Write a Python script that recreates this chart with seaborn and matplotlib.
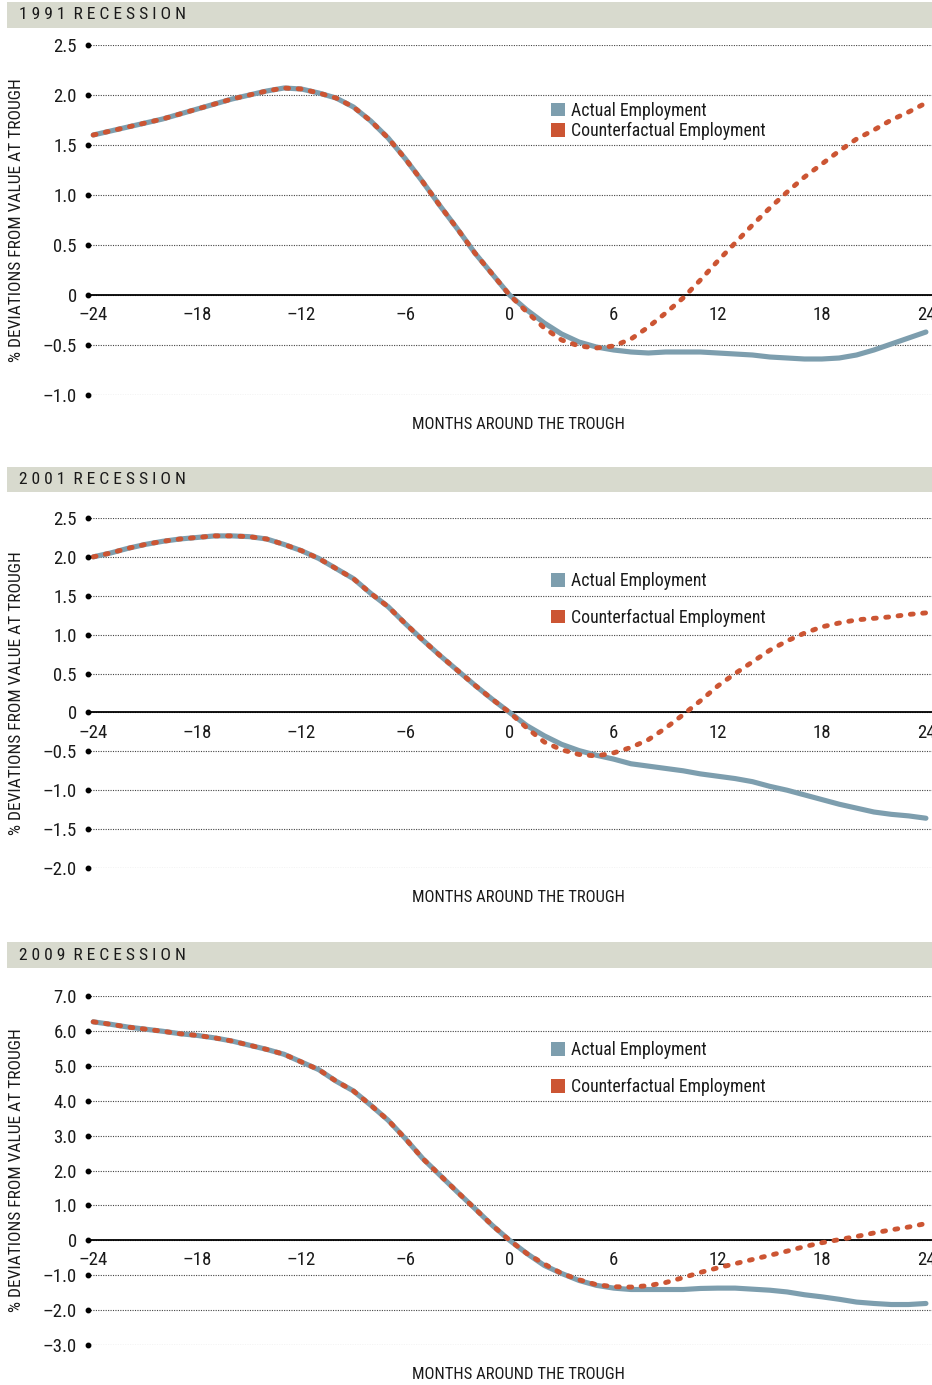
import matplotlib
matplotlib.use("Agg")
import matplotlib.pyplot as plt
from matplotlib import font_manager
from matplotlib.patches import Patch, Rectangle
import numpy as np
import pandas as pd
import seaborn as sns

# ---- data (monthly, -24 .. +24 months around the trough)
months = list(range(-24, 25))

actual_1991 = [1.60, 1.64, 1.68, 1.72, 1.76, 1.81, 1.86, 1.91, 1.96, 2.00, 2.04, 2.07,
               2.06, 2.02, 1.97, 1.88, 1.74, 1.57, 1.36, 1.13, 0.89, 0.66, 0.42, 0.21,
               0.00,
               -0.15, -0.28, -0.39, -0.47, -0.52, -0.55, -0.57, -0.58, -0.57, -0.57, -0.57, -0.58,
               -0.59, -0.60, -0.62, -0.63, -0.64, -0.64, -0.63, -0.60, -0.55, -0.49, -0.43, -0.37]
counter_1991 = [1.60, 1.64, 1.68, 1.72, 1.76, 1.81, 1.86, 1.91, 1.96, 2.00, 2.04, 2.07,
                2.06, 2.02, 1.97, 1.88, 1.74, 1.57, 1.36, 1.13, 0.89, 0.66, 0.42, 0.21,
                0.00,
                -0.17, -0.33, -0.45, -0.51, -0.53, -0.51, -0.44, -0.32, -0.18, -0.03, 0.15, 0.34,
                0.52, 0.70, 0.87, 1.03, 1.18, 1.31, 1.44, 1.56, 1.65, 1.75, 1.83, 1.92]

actual_2001 = [2.00, 2.05, 2.11, 2.16, 2.20, 2.23, 2.25, 2.27, 2.27, 2.26, 2.23, 2.16,
               2.08, 1.98, 1.85, 1.72, 1.53, 1.36, 1.14, 0.93, 0.73, 0.54, 0.35, 0.17,
               0.00,
               -0.17, -0.30, -0.41, -0.49, -0.55, -0.60, -0.66, -0.69, -0.72, -0.75, -0.79, -0.82,
               -0.85, -0.89, -0.95, -1.00, -1.06, -1.12, -1.18, -1.23, -1.28, -1.31, -1.33, -1.36]
counter_2001 = [2.00, 2.05, 2.11, 2.16, 2.20, 2.23, 2.25, 2.27, 2.27, 2.26, 2.23, 2.16,
                2.08, 1.98, 1.85, 1.72, 1.53, 1.36, 1.14, 0.93, 0.73, 0.54, 0.35, 0.17,
                0.00,
                -0.20, -0.38, -0.48, -0.54, -0.56, -0.52, -0.45, -0.35, -0.20, -0.03, 0.15, 0.34,
                0.50, 0.65, 0.80, 0.92, 1.02, 1.10, 1.15, 1.19, 1.21, 1.23, 1.26, 1.28]

actual_2009 = [6.26, 6.19, 6.11, 6.05, 5.99, 5.92, 5.87, 5.80, 5.71, 5.59, 5.47, 5.33,
               5.11, 4.89, 4.56, 4.28, 3.87, 3.44, 2.91, 2.34, 1.86, 1.38, 0.91, 0.43,
               0.00,
               -0.38, -0.72, -0.95, -1.15, -1.29, -1.37, -1.41, -1.41, -1.41, -1.41, -1.38, -1.37,
               -1.37, -1.40, -1.43, -1.48, -1.56, -1.62, -1.69, -1.77, -1.81, -1.84, -1.84, -1.81]
counter_2009 = [6.26, 6.19, 6.11, 6.05, 5.99, 5.92, 5.87, 5.80, 5.71, 5.59, 5.47, 5.33,
                5.11, 4.89, 4.56, 4.28, 3.87, 3.44, 2.91, 2.34, 1.86, 1.38, 0.91, 0.43,
                0.00,
                -0.38, -0.68, -0.95, -1.13, -1.27, -1.33, -1.34, -1.30, -1.21, -1.07, -0.92, -0.79,
                -0.67, -0.55, -0.43, -0.31, -0.18, -0.07, 0.02, 0.11, 0.21, 0.30, 0.38, 0.48]

xticks = [-24, -18, -12, -6, 0, 6, 12, 18, 24]
xtick_labels = ["\u201324", "\u201318", "\u201312", "\u20136", "0", "6", "12", "18", "24"]

yticks_1991 = [2.5, 2.0, 1.5, 1.0, 0.5, 0, -0.5, -1.0]
ylabels_1991 = ["2.5", "2.0", "1.5", "1.0", "0.5", "0", "\u20130.5", "\u20131.0"]
yticks_2001 = [2.5, 2.0, 1.5, 1.0, 0.5, 0, -0.5, -1.0, -1.5, -2.0]
ylabels_2001 = ["2.5", "2.0", "1.5", "1.0", "0.5", "0", "\u20130.5", "\u20131.0", "\u20131.5", "\u20132.0"]
yticks_2009 = [7.0, 6.0, 5.0, 4.0, 3.0, 2.0, 1.0, 0, -1.0, -2.0, -3.0]
ylabels_2009 = ["7.0", "6.0", "5.0", "4.0", "3.0", "2.0", "1.0", "0", "\u20131.0", "\u20132.0", "\u20133.0"]

titles = ["1991 RECESSION", "2001 RECESSION", "2009 RECESSION"]
series_names = ["Actual Employment", "Counterfactual Employment"]

BLUE = "#7d9eae"
ORANGE = "#cc5533"
BAND = "#d8dace"
INK = "#1a1a1a"

sns.set_style("white")

# pick a condensed face if one is installed
names = {f.name for f in font_manager.fontManager.ttflist}
face = "Liberation Sans"
for cand in ["Liberation Sans Narrow", "DejaVu Sans Condensed", "Roboto Condensed"]:
    if cand in names:
        face = cand
        break
plt.rcParams["font.family"] = [face, "DejaVu Sans"]

W, H = 932, 1385
fig = plt.figure(figsize=(W / 100, H / 100), dpi=100)

# axes boxes in pixels: (top, bottom); band: (top, bottom)
panels = [
    dict(title=titles[0], actual=actual_1991, counter=counter_1991, yt=yticks_1991, yl=ylabels_1991,
         box=(45, 395), band=(2, 27.5), leg_y=0.838, leg_sp=0.12),
    dict(title=titles[1], actual=actual_2001, counter=counter_2001, yt=yticks_2001, yl=ylabels_2001,
         box=(518, 868), band=(467, 492.5), leg_y=0.846, leg_sp=1.06),
    dict(title=titles[2], actual=actual_2009, counter=counter_2009, yt=yticks_2009, yl=ylabels_2009,
         box=(996, 1345), band=(942, 968), leg_y=0.871, leg_sp=1.06),
]

left_px = 88
xlim = (-24.3, 24.35)

for p in panels:
    top, bot = p["box"]
    ax = fig.add_axes([left_px / W, 1 - bot / H, (W - left_px) / W, (bot - top) / H])

    df = pd.DataFrame({"month": months, "actual": p["actual"], "counter": p["counter"]})
    sns.lineplot(data=df, x="month", y="actual", color=BLUE, linewidth=3.7,
                 solid_capstyle="round", ax=ax, zorder=3)
    sns.lineplot(data=df, x="month", y="counter", color=ORANGE, linewidth=3.5,
                 linestyle=(0, (0.6, 1.95)), dash_capstyle="round", ax=ax, zorder=4)

    ax.set_xlim(*xlim)
    ax.set_ylim(min(p["yt"]), max(p["yt"]))
    ax.set_yticks(p["yt"])
    ax.set_yticklabels(p["yl"])
    ax.set_xticks(xticks)
    ax.set_xticklabels(xtick_labels)
    ax.tick_params(axis="both", length=0, labelsize=13.5, colors=INK)
    ax.tick_params(axis="y", pad=8)
    ax.tick_params(axis="x", pad=8)

    for s in ["left", "top", "right"]:
        ax.spines[s].set_visible(False)
    ax.spines["bottom"].set_position(("data", 0))
    ax.spines["bottom"].set_color("black")
    ax.spines["bottom"].set_linewidth(1.3)
    ax.spines["bottom"].set_zorder(2)

    ax.set_axisbelow(True)
    ax.grid(axis="y", linestyle=(0, (1, 1.2)), color="#444444", linewidth=0.8)
    ax.grid(axis="x", visible=False)
    # small dots where each gridline starts
    ax.plot([xlim[0]] * len(p["yt"]), p["yt"], "o", color="black", ms=3.2, clip_on=False, zorder=5)

    ax.set_xlabel("MONTHS AROUND THE TROUGH", fontsize=12, color=INK)
    ax.xaxis.set_label_coords(0.51, -0.064)
    ax.set_ylabel("% DEVIATIONS FROM VALUE AT TROUGH", fontsize=12.5, color=INK)
    ax.yaxis.set_label_coords(-0.076, 0.5)

    handles = [Patch(facecolor=BLUE, edgecolor="none"), Patch(facecolor=ORANGE, edgecolor="none")]
    leg = ax.legend(handles, series_names, loc="upper left", bbox_to_anchor=(0.5486, p["leg_y"]),
                    frameon=False, fontsize=12.8, handlelength=0.8, handleheight=0.8,
                    handletextpad=0.35, borderpad=0, borderaxespad=0, labelspacing=p["leg_sp"])
    for t in leg.get_texts():
        t.set_color(INK)

    # grey title band
    b0, b1 = p["band"]
    fig.add_artist(Rectangle((7 / W, 1 - b1 / H), (W - 7) / W, (b1 - b0) / H,
                             transform=fig.transFigure, facecolor=BAND, edgecolor="none", zorder=0))
    fig.text(19 / W, 1 - ((b0 + b1) / 2) / H, " ".join(p["title"]).replace("   ", "  "),
             fontsize=12.6, color=INK, va="center", ha="left")

fig.savefig("out.png", dpi=100)
